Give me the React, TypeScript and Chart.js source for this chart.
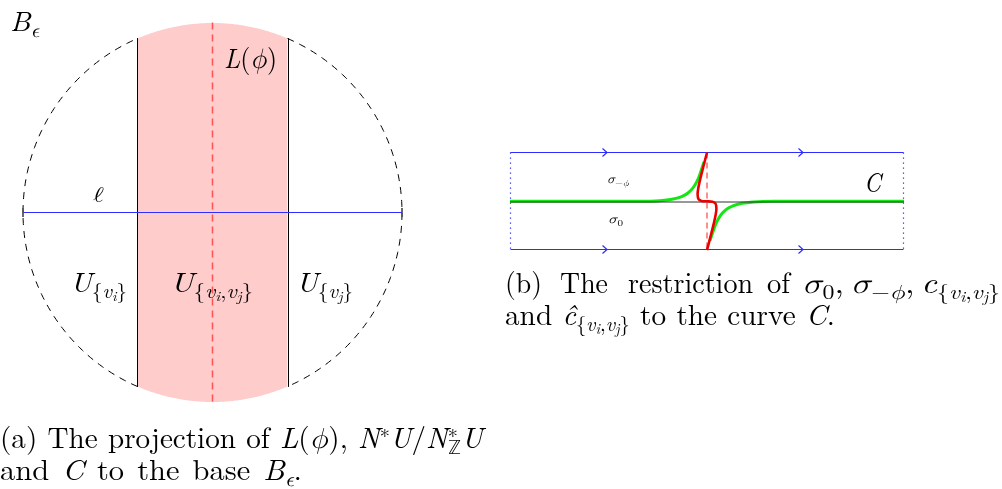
import React, { useEffect, useRef } from "react";
import { Chart, registerables } from "chart.js";

Chart.register(...registerables);

const FONT = "'Latin Modern Roman', 'Latin Modern Math', 'Liberation Serif', 'DejaVu Serif', serif";

// ---------------- Panel (a): the base B_eps ----------------
const ballCenter = [212.5, 212.5];
const ballRadius = 189.5;
const stripEdges = [137.5, 288.5]; // U_{vi,vj} strip
const ellLine = [[23, 212.5], [402, 212.5]];
const ellTickLeft = [[23, 208], [23, 217]];
const ellTickRight = [[402, 208], [402, 217]];
const lPhiLine = [[212.5, 22.5], [212.5, 401.5]];

// ---------------- Panel (b): restriction to the curve C ----------------
const topEdge = [[510.5, 152.5], [903.5, 152.5]];
const bottomEdge = [[510.5, 249.5], [903.5, 249.5]];
const leftSide = [[510.5, 152.5], [510.5, 249.5]];
const rightSide = [[903.5, 152.5], [903.5, 249.5]];
const curveC = [[510, 202], [904, 202]];
const lPhiCut = [[707, 152.5], [707, 249.5]];
const arrowTop1 = [[602.5, 148.5], [607, 152.5], [602.5, 156.5]];
const arrowTop2 = [[798.5, 148.5], [803, 152.5], [798.5, 156.5]];
const arrowBot1 = [[602.5, 245.5], [607, 249.5], [602.5, 253.5]];
const arrowBot2 = [[798.5, 245.5], [803, 249.5], [798.5, 253.5]];
const sigmaMinusPhi = [
  [510, 201.3], [640, 201.3], [660, 200.7], [672, 199.3], [681, 196.8],
  [688, 193], [694, 186.5], [698.5, 178], [702, 168], [704, 162],
];
const sigmaZero = [
  [710, 240.6], [712, 234.6], [715.5, 224.6], [720, 216.1], [726, 209.6],
  [733, 205.8], [742, 203.3], [754, 201.9], [774, 201.3], [904, 201.3],
];
const cHat = [
  [707, 152.5], [703.5, 166], [700.5, 178], [698.3, 188], [697.6, 194.5],
  [698.6, 199.2], [701.5, 200.9], [707, 201.3], [712.5, 201.7], [715.4, 203.4],
  [716.4, 208.1], [715.7, 214.6], [713.5, 224.6], [710.5, 236.6], [707, 250.1],
];

// ---------------- Text (rich runs: [text, style, level, noAdvance]) ----------------
type Run = [string, "r" | "i", number, boolean?];
const txtBeps: Run[] = [["B", "i", 0], ["ϵ", "i", 1]];
const txtLphi: Run[] = [["L", "i", 0], ["(", "r", 0], ["ϕ", "i", 0], [")", "r", 0]];
const txtEll: Run[] = [["ℓ", "r", 0]];
const txtUvi: Run[] = [["U", "i", 0], ["{", "r", 1], ["v", "i", 1], ["i", "i", 2], ["}", "r", 1]];
const txtUvivj: Run[] = [
  ["U", "i", 0], ["{", "r", 1], ["v", "i", 1], ["i", "i", 2], [",", "r", 1],
  ["v", "i", 1], ["j", "i", 2], ["}", "r", 1],
];
const txtUvj: Run[] = [["U", "i", 0], ["{", "r", 1], ["v", "i", 1], ["j", "i", 2], ["}", "r", 1]];
const txtSigmaPhi: Run[] = [["σ", "i", 0], ["−", "r", 1], ["ϕ", "i", 1]];
const txtSigma0: Run[] = [["σ", "i", 0], ["0", "r", 1]];
const txtC: Run[] = [["C", "i", 0]];
const capA1: Run[] = [
  ["(a) The projection of ", "r", 0], ["L", "i", 0], ["(", "r", 0], ["ϕ", "i", 0],
  ["), ", "r", 0], ["N", "i", 0], ["∗", "r", -1], ["U", "i", 0],
  ["/", "r", 0], ["N", "i", 0], ["∗", "r", -1, true], ["ℤ", "r", 1], ["U", "i", 0],
];
const capA2: Run[] = [
  ["and ", "r", 0], ["C", "i", 0], [" to the base ", "r", 0], ["B", "i", 0],
  ["ϵ", "i", 1], [".", "r", 0],
];
const capB1a: Run[] = [["(b)", "r", 0]];
const capB1b: Run[] = [["The", "r", 0]];
const capB1c: Run[] = [["restriction", "r", 0]];
const capB1d: Run[] = [["of", "r", 0]];
const capB1e: Run[] = [
  ["σ", "i", 0], ["0", "r", 1], [",", "r", 0], ["\u2009", "r", 0],
  ["σ", "i", 0], ["−", "r", 1], ["ϕ", "i", 1], [",", "r", 0], ["\u2009", "r", 0],
  ["c", "i", 0], ["{", "r", 1], ["v", "i", 1], ["i", "i", 2], [",", "r", 1],
  ["v", "i", 1], ["j", "i", 2], ["}", "r", 1],
];
const capB2: Run[] = [
  ["and ", "r", 0], ["ĉ", "i", 0], ["{", "r", 1], ["v", "i", 1], ["i", "i", 2],
  [",", "r", 1], ["v", "i", 1], ["j", "i", 2], ["}", "r", 1],
  [" to the curve ", "r", 0], ["C", "i", 0], [".", "r", 0],
];

// label placement: [runs, x0, x1, baseline, fontPx, mode (s = scale, j = justify)]
const labelLayout: [Run[], number, number, number, number, string][] = [
  [txtBeps, 10, 39, 31, 28, "s"],
  [txtLphi, 224, 277, 68, 28, "s"],
  [txtEll, 93, 104, 202, 22, "s"],
  [txtUvi, 70, 127, 292, 28, "s"],
  [txtUvivj, 170, 253, 292, 28, "s"],
  [txtUvj, 296, 353, 292, 28, "s"],
  [txtSigmaPhi, 607, 629, 183, 12.5, "s"],
  [txtSigma0, 608, 623, 223, 12.5, "s"],
  [txtC, 864, 881, 192, 28, "s"],
  [capA1, 0, 483, 448, 29, "j"],
  [capA2, 0, 302, 480, 29, "j"],
  [capB1a, 505, 542, 293, 29, "s"],
  [capB1b, 560, 608, 293, 29, "s"],
  [capB1c, 628, 753, 293, 29, "s"],
  [capB1d, 767, 790, 293, 29, "s"],
  [capB1e, 802, 1000, 293, 29, "s"],
  [capB2, 505, 835, 325, 29, "j"],
];

const LEVEL_SCALE: Record<number, number> = { 0: 1, 1: 0.7, 2: 0.5, [-1]: 0.7 };
const LEVEL_DY: Record<number, number> = { 0: 0, 1: 0.2, 2: 0.32, [-1]: -0.36 };

function fontFor(style: string, level: number, fs: number) {
  return `${style === "i" ? "italic " : ""}${(fs * LEVEL_SCALE[level]).toFixed(2)}px ${FONT}`;
}

function drawRich(ctx: CanvasRenderingContext2D, runs: Run[], x0: number, x1: number, y: number, fs: number, mode: string) {
  // split into tokens so that spaces can absorb extra width when justifying
  const tokens: { t: string; st: string; lv: number; adv: boolean; w: number; space: boolean }[] = [];
  for (const [t, st, lv, noAdv] of runs) {
    ctx.font = fontFor(st, lv, fs);
    for (const piece of t.split(/( )/)) {
      if (!piece) continue;
      tokens.push({ t: piece, st, lv, adv: !noAdv, w: ctx.measureText(piece).width, space: piece === " " });
    }
  }
  let w = 0;
  let nSpaces = 0;
  for (const k of tokens) {
    if (k.adv) w += k.w;
    if (k.space) nSpaces++;
  }
  let sx = (x1 - x0) / w;
  let extra = 0;
  if (mode === "j" && nSpaces > 0) {
    // keep glyphs close to natural width, put the rest into the spaces
    sx = Math.min(Math.max(Math.sqrt(sx), 0.97), 1.06);
    extra = ((x1 - x0) / sx - w) / nSpaces;
  }
  ctx.save();
  ctx.translate(x0, y);
  ctx.scale(sx, 1);
  ctx.fillStyle = "#000";
  ctx.textBaseline = "alphabetic";
  ctx.textAlign = "left";
  let x = 0;
  for (const k of tokens) {
    if (k.space) {
      x += k.w + extra;
      continue;
    }
    ctx.font = fontFor(k.st, k.lv, fs);
    ctx.fillText(k.t, x, LEVEL_DY[k.lv] * fs);
    if (k.adv) x += k.w;
  }
  ctx.restore();
}

const pts = (a: number[][]) => a.map(([x, y]) => ({ x, y }));

function arc(t0: number, t1: number, n = 120) {
  const [cx, cy] = ballCenter;
  const out: { x: number; y: number }[] = [];
  for (let k = 0; k <= n; k++) {
    const t = t0 + ((t1 - t0) * k) / n;
    out.push({ x: cx + ballRadius * Math.cos(t), y: cy + ballRadius * Math.sin(t) });
  }
  return out;
}

function line(data: { x: number; y: number }[], color: string, width: number, extra: any = {}) {
  return {
    data,
    showLine: true,
    pointRadius: 0,
    pointHoverRadius: 0,
    borderColor: color,
    borderWidth: width,
    backgroundColor: "transparent",
    fill: false,
    tension: 0,
    ...extra,
  };
}

const textPlugin = {
  id: "diagramText",
  afterDatasetsDraw(chart: any) {
    const ctx = chart.ctx as CanvasRenderingContext2D;
    const xs = chart.scales.x;
    const ys = chart.scales.y;
    for (const [runs, x0, x1, y, fs, mode] of labelLayout) {
      drawRich(ctx, runs, xs.getPixelForValue(x0), xs.getPixelForValue(x1), ys.getPixelForValue(y), fs, mode);
    }
  },
};

export default function App() {
  const ref = useRef<HTMLCanvasElement>(null);
  useEffect(() => {
    const dx = Math.abs(stripEdges[0] - ballCenter[0]);
    const a = Math.acos(dx / ballRadius);
    const h = ballRadius * Math.sin(a);
    const blue = "rgb(45,45,255)";
    const datasets: any[] = [
      // panel (b) - top-most first
      line(pts(arrowTop1), blue, 1.2),
      line(pts(arrowTop2), blue, 1.2),
      line(pts(arrowBot1), blue, 1.2),
      line(pts(arrowBot2), blue, 1.2),
      line(pts(cHat), "rgb(235,0,0)", 2.6, { tension: 0.35 }),
      line(pts(lPhiCut), "rgba(255,80,80,0.85)", 1.5, { borderDash: [6, 4] }),
      line(pts(curveC), "#333", 1.1),
      line(pts(sigmaMinusPhi), "rgb(20,230,20)", 3, { cubicInterpolationMode: "monotone" }),
      line(pts(sigmaZero), "rgb(20,230,20)", 3, { cubicInterpolationMode: "monotone" }),
      line(pts(topEdge), blue, 1.2),
      line(pts(bottomEdge), blue, 1.2),
      line(pts(leftSide), blue, 1.2, { borderDash: [1.2, 3.8] }),
      line(pts(rightSide), blue, 1.2, { borderDash: [1.2, 3.8] }),
      // panel (a)
      line(pts(ellLine), blue, 1.2),
      line(pts(ellTickLeft), "#555", 1),
      line(pts(ellTickRight), "#555", 1),
      line(pts(lPhiLine), "rgba(255,60,60,0.85)", 1.5, { borderDash: [7, 5] }),
      line(pts([[stripEdges[0], ballCenter[1] - h], [stripEdges[0], ballCenter[1] + h]]), "#000", 1),
      line(pts([[stripEdges[1], ballCenter[1] - h], [stripEdges[1], ballCenter[1] + h]]), "#000", 1),
      line(arc(Math.PI - a, Math.PI + a), "#000", 1, { borderDash: [7, 6] }),
      line(arc(-a, a), "#000", 1, { borderDash: [7, 6] }),
      line(arc(Math.PI + a, 2 * Math.PI - a), "rgba(0,0,0,0)", 0, { fill: "+1", backgroundColor: "#ffcccc" }),
      line(arc(Math.PI - a, a), "rgba(0,0,0,0)", 0),
    ];
    const chart = new Chart(ref.current!, {
      type: "scatter",
      data: { datasets },
      options: {
        animation: false,
        responsive: false,
        maintainAspectRatio: false,
        devicePixelRatio: 1,
        events: [],
        layout: { padding: 0 },
        plugins: { legend: { display: false }, tooltip: { enabled: false }, title: { display: false } },
        scales: {
          x: { type: "linear", min: 0, max: 1002, display: false },
          y: { type: "linear", min: 0, max: 489, reverse: true, display: false },
        },
      },
      plugins: [textPlugin],
    } as any);
    return () => chart.destroy();
  }, []);
  return (
    <div style={{ position: "fixed", left: 0, top: 0, width: 1002, height: 489, background: "#fff" }}>
      <canvas ref={ref} width={1002} height={489} style={{ display: "block", width: 1002, height: 489 }} />
    </div>
  );
}
